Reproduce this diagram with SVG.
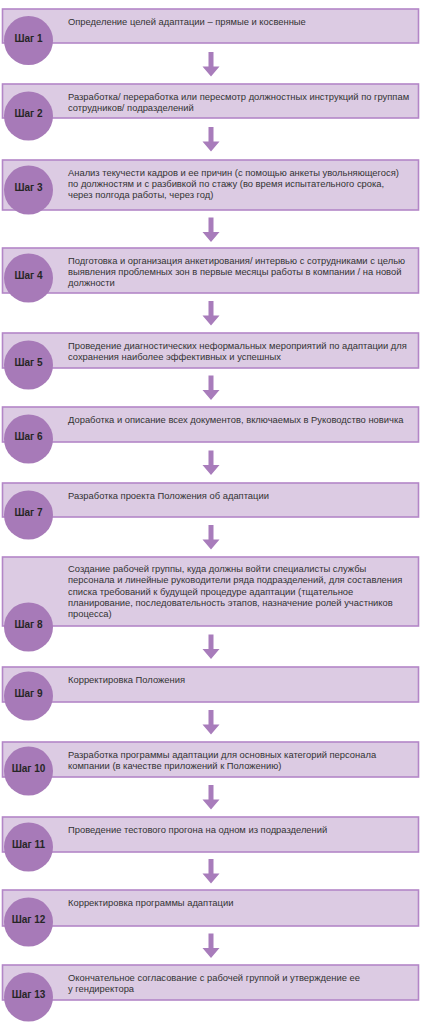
<svg xmlns="http://www.w3.org/2000/svg" width="426" height="1024" viewBox="0 0 426 1024">
<style>
.box{fill:#dccbe3;stroke:#b386c7;stroke-width:1.6}
.circ{fill:#a77ab8}
.lbl{font-family:"Liberation Sans",Arial,sans-serif;font-size:10px;font-weight:bold;fill:#262626;text-anchor:middle}
.txt{font-family:"Liberation Sans",Arial,sans-serif;font-size:9.4px;fill:#333333}
.arr{fill:#a87cbb}
</style>
<rect width="426" height="1024" fill="#ffffff"/>
<g id="connectors">
<path class="arr" d="M208.5,52 V66.5 H202.5 L211,76.5 L219.5,66.5 H213.5 V52 Z"/>
<path class="arr" d="M208.5,127 V141.5 H202.5 L211,151.5 L219.5,141.5 H213.5 V127 Z"/>
<path class="arr" d="M208.5,217.5 V232 H202.5 L211,242 L219.5,232 H213.5 V217.5 Z"/>
<path class="arr" d="M208.5,301 V315.5 H202.5 L211,325.5 L219.5,315.5 H213.5 V301 Z"/>
<path class="arr" d="M208.5,375.5 V390 H202.5 L211,400 L219.5,390 H213.5 V375.5 Z"/>
<path class="arr" d="M208.5,450.5 V465 H202.5 L211,475 L219.5,465 H213.5 V450.5 Z"/>
<path class="arr" d="M208.5,525 V539.5 H202.5 L211,549.5 L219.5,539.5 H213.5 V525 Z"/>
<path class="arr" d="M208.5,634.5 V649 H202.5 L211,659 L219.5,649 H213.5 V634.5 Z"/>
<path class="arr" d="M208.5,710 V724.5 H202.5 L211,734.5 L219.5,724.5 H213.5 V710 Z"/>
<path class="arr" d="M208.5,785 V799.5 H202.5 L211,809.5 L219.5,799.5 H213.5 V785 Z"/>
<path class="arr" d="M208.5,859 V873.5 H202.5 L211,883.5 L219.5,873.5 H213.5 V859 Z"/>
<path class="arr" d="M208.5,933.5 V948 H202.5 L211,958 L219.5,948 H213.5 V933.5 Z"/>
</g>
<g id="step1">
<rect class="box" x="2.5" y="9" width="416" height="34"/>
<circle class="circ" cx="28.5" cy="40.5" r="24.5"/>
<text class="lbl" x="28.5" y="41.5">Шаг 1</text>
<text class="txt" x="68" y="24.5">Определение целей адаптации – прямые и косвенные</text>
</g>
<g id="step2">
<rect class="box" x="2.5" y="84" width="416" height="34"/>
<circle class="circ" cx="28.5" cy="116" r="24.5"/>
<text class="lbl" x="28.5" y="117">Шаг 2</text>
<text class="txt" x="68" y="99.5">Разработка/ переработка или пересмотр должностных инструкций по группам</text>
<text class="txt" x="68" y="110.8">сотрудников/ подразделений</text>
</g>
<g id="step3">
<rect class="box" x="2.5" y="160" width="416" height="50"/>
<circle class="circ" cx="28.5" cy="190" r="24.5"/>
<text class="lbl" x="28.5" y="191">Шаг 3</text>
<text class="txt" x="68" y="175.5">Анализ текучести кадров и ее причин (с помощью анкеты увольняющегося)</text>
<text class="txt" x="68" y="186.8">по должностям и с разбивкой по стажу (во время испытательного срока,</text>
<text class="txt" x="68" y="198.1">через полгода работы, через год)</text>
</g>
<g id="step4">
<rect class="box" x="2.5" y="248" width="416" height="45"/>
<circle class="circ" cx="28.5" cy="278" r="24.5"/>
<text class="lbl" x="28.5" y="279">Шаг 4</text>
<text class="txt" x="68" y="263.5">Подготовка и организация анкетирования/ интервью с сотрудниками с целью</text>
<text class="txt" x="68" y="274.8">выявления проблемных зон в первые месяцы работы в компании / на новой</text>
<text class="txt" x="68" y="286.1">должности</text>
</g>
<g id="step5">
<rect class="box" x="2.5" y="333" width="416" height="35"/>
<circle class="circ" cx="28.5" cy="365" r="24.5"/>
<text class="lbl" x="28.5" y="366">Шаг 5</text>
<text class="txt" x="68" y="348.5">Проведение диагностических неформальных мероприятий по адаптации для</text>
<text class="txt" x="68" y="359.8">сохранения наиболее эффективных и успешных</text>
</g>
<g id="step6">
<rect class="box" x="2.5" y="407" width="416" height="35"/>
<circle class="circ" cx="28.5" cy="439" r="24.5"/>
<text class="lbl" x="28.5" y="440">Шаг 6</text>
<text class="txt" x="68" y="422.5">Доработка и описание всех документов, включаемых в Руководство новичка</text>
</g>
<g id="step7">
<rect class="box" x="2.5" y="483" width="416" height="34"/>
<circle class="circ" cx="28.5" cy="515" r="24.5"/>
<text class="lbl" x="28.5" y="516">Шаг 7</text>
<text class="txt" x="68" y="498.5">Разработка проекта Положения об адаптации</text>
</g>
<g id="step8">
<rect class="box" x="2.5" y="557" width="416" height="69"/>
<circle class="circ" cx="28.5" cy="627" r="24.5"/>
<text class="lbl" x="28.5" y="628">Шаг 8</text>
<text class="txt" x="68" y="572">Создание рабочей группы, куда должны войти специалисты службы</text>
<text class="txt" x="68" y="583.3">персонала и линейные руководители ряда подразделений, для составления</text>
<text class="txt" x="68" y="594.6">списка требований к будущей процедуре адаптации (тщательное</text>
<text class="txt" x="68" y="605.9">планирование, последовательность этапов, назначение ролей участников</text>
<text class="txt" x="68" y="617.2">процесса)</text>
</g>
<g id="step9">
<rect class="box" x="2.5" y="667" width="416" height="35"/>
<circle class="circ" cx="28.5" cy="696" r="24.5"/>
<text class="lbl" x="28.5" y="697">Шаг 9</text>
<text class="txt" x="68" y="682.5">Корректировка Положения</text>
</g>
<g id="step10">
<rect class="box" x="2.5" y="742" width="416" height="35"/>
<circle class="circ" cx="28.5" cy="771" r="24.5"/>
<text class="lbl" x="28.5" y="772">Шаг 10</text>
<text class="txt" x="68" y="757.5">Разработка программы адаптации для основных категорий персонала</text>
<text class="txt" x="68" y="768.8">компании (в качестве приложений к Положению)</text>
</g>
<g id="step11">
<rect class="box" x="2.5" y="817" width="416" height="35"/>
<circle class="circ" cx="28.5" cy="847" r="24.5"/>
<text class="lbl" x="28.5" y="848">Шаг 11</text>
<text class="txt" x="68" y="832.5">Проведение тестового прогона на одном из подразделений</text>
</g>
<g id="step12">
<rect class="box" x="2.5" y="890" width="416" height="36"/>
<circle class="circ" cx="28.5" cy="922" r="24.5"/>
<text class="lbl" x="28.5" y="923">Шаг 12</text>
<text class="txt" x="68" y="905.5">Корректировка программы адаптации</text>
</g>
<g id="step13">
<rect class="box" x="2.5" y="965" width="416" height="35"/>
<circle class="circ" cx="28.5" cy="997" r="24.5"/>
<text class="lbl" x="28.5" y="998">Шаг 13</text>
<text class="txt" x="68" y="980.5">Окончательное согласование с рабочей группой и утверждение ее</text>
<text class="txt" x="68" y="991.8">у гендиректора</text>
</g>
</svg>
